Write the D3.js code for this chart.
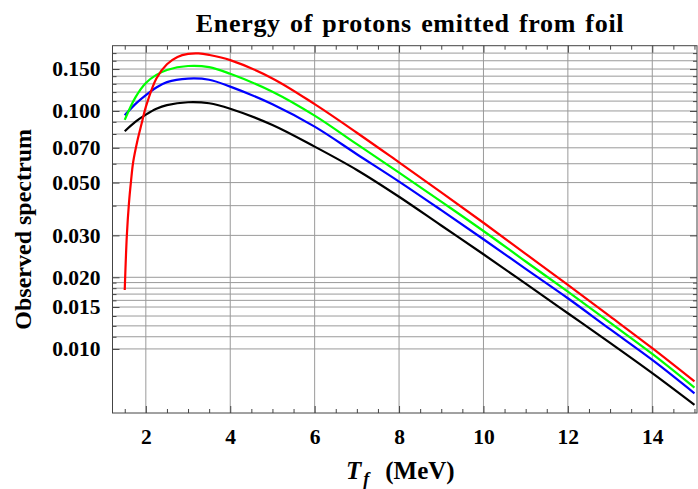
<!DOCTYPE html>
<html>
<head>
<meta charset="utf-8">
<script src="https://cdn.jsdelivr.net/npm/d3@7"></script>
<style>
  body { margin: 0; background: #fff; }
  text { font-family: "Liberation Serif", "Times New Roman", serif; font-weight: bold; fill: #000; }
</style>
</head>
<body>
<svg id="chart" width="698" height="489"></svg>
<script>
// energies (MeV) for the black, blue and green curves
const energy = [1.5, 1.75, 2, 2.25, 2.5, 3, 3.5, 4, 5, 6, 7, 8, 9, 10, 11, 12, 13, 14, 15];
const blackSpectrum = [0.0822, 0.0900, 0.0965, 0.1021, 0.1058, 0.1088, 0.1077, 0.1022, 0.0873, 0.0708, 0.0565, 0.0436, 0.0330, 0.0250, 0.0188, 0.01412, 0.0106, 0.00791, 0.00582];
const blueSpectrum = [0.0959, 0.1068, 0.1165, 0.1255, 0.1322, 0.1367, 0.1352, 0.1265, 0.1067, 0.0859, 0.0658, 0.0505, 0.0383, 0.0289, 0.0217, 0.01633, 0.0121, 0.00899, 0.00651];
const greenSpectrum = [0.0917, 0.1137, 0.1310, 0.1417, 0.1487, 0.1545, 0.1528, 0.1432, 0.1205, 0.0956, 0.0725, 0.0551, 0.0416, 0.0313, 0.0233, 0.0174, 0.0129, 0.00953, 0.00688];

// the red curve rises steeply, so it is read at more energies
const redEnergy = [1.5, 1.55, 1.6, 1.65, 1.7, 1.8, 1.9, 2, 2.25, 2.5, 2.75, 3, 3.25, 3.5, 4, 5, 6, 7, 8, 9, 10, 11, 12, 13, 14, 15];
const redSpectrum = [0.0177, 0.030, 0.041, 0.051, 0.061, 0.075, 0.0885, 0.104, 0.137, 0.157, 0.1685, 0.1736, 0.1745, 0.172, 0.1635, 0.137, 0.1068, 0.0810, 0.0608, 0.0455, 0.0339, 0.0251, 0.01858, 0.0137, 0.01007, 0.0073];

const xTicks = [2, 4, 6, 8, 10, 12, 14];
const xMinorTicks = [1.5, 2.5, 3, 3.5, 4.5, 5, 5.5, 6.5, 7, 7.5, 8.5, 9, 9.5, 10.5, 11, 11.5, 12.5, 13, 13.5, 14.5, 15];
const yTicks = [0.01, 0.015, 0.02, 0.03, 0.05, 0.07, 0.1, 0.15];
const yMinorTicks = [0.01125, 0.0125, 0.01375, 0.016, 0.017, 0.018, 0.019, 0.04, 0.06, 0.08, 0.09, 0.11, 0.12, 0.13, 0.14, 0.1625, 0.175];

const width = 698, height = 489;
const margin = {top: 45.7, right: 1, bottom: 76, left: 112.5};

const svg = d3.select('#chart');

const x = d3.scaleLinear()
  .domain([1.21, 15.06])
  .range([margin.left, width - margin.right]);

const y = d3.scaleLog()
  .domain([0.00538, 0.188])
  .range([height - margin.bottom, margin.top]);

const x0 = margin.left, x1 = width - margin.right;
const y0 = height - margin.bottom, y1 = margin.top;

// grid
const grid = svg.append('g')
  .attr('stroke', '#9a9a9a')
  .attr('stroke-width', 1);
grid.append('g')
  .selectAll('line')
  .data(xTicks)
  .join('line')
  .attr('x1', d => x(d))
  .attr('x2', d => x(d))
  .attr('y1', y1)
  .attr('y2', y0);
grid.append('g')
  .selectAll('line')
  .data(yTicks.concat(yMinorTicks))
  .join('line')
  .attr('y1', d => y(d))
  .attr('y2', d => y(d))
  .attr('x1', x0)
  .attr('x2', x1);

// curves
const line = d3.line()
  .curve(d3.curveCatmullRom.alpha(0.5))
  .x(d => x(d[0]))
  .y(d => y(d[1]));

const series = [
  {color: '#000000', xs: energy, ys: blackSpectrum},
  {color: '#0000ff', xs: energy, ys: blueSpectrum},
  {color: '#00ff00', xs: energy, ys: greenSpectrum},
  {color: '#ff0000', xs: redEnergy, ys: redSpectrum}
];

svg.append('g')
  .selectAll('path')
  .data(series)
  .join('path')
  .attr('fill', 'none')
  .attr('stroke', d => d.color)
  .attr('stroke-width', 2.2)
  .attr('stroke-linejoin', 'round')
  .attr('d', d => line(d.xs.map((v, i) => [v, d.ys[i]])));

// frame with ticks on all four sides
const tickColor = '#444';
const frame = svg.append('g');

const bottomAxis = d3.axisBottom(x).tickValues(xTicks).tickSize(-7).tickFormat(d3.format('d')).tickPadding(16);
const bottomMinor = d3.axisBottom(x).tickValues(xMinorTicks).tickSize(-4).tickFormat('');
const topAxis = d3.axisTop(x).tickValues(xTicks).tickSize(-7).tickFormat('');
const topMinor = d3.axisTop(x).tickValues(xMinorTicks).tickSize(-4).tickFormat('');
const leftAxis = d3.axisLeft(y).tickValues(yTicks).tickSize(-7).tickFormat(d3.format('.3f')).tickPadding(12);
const leftMinor = d3.axisLeft(y).tickValues(yMinorTicks).tickSize(-4).tickFormat('');
const rightAxis = d3.axisRight(y).tickValues(yTicks).tickSize(-7).tickFormat('');
const rightMinor = d3.axisRight(y).tickValues(yMinorTicks).tickSize(-4).tickFormat('');

const styleAxis = g => g
  .call(g => g.select('.domain').remove())
  .call(g => g.selectAll('.tick line').attr('stroke', tickColor))
  .call(g => g.selectAll('.tick text').style('font-size', '21.5px').attr('fill', '#000'));

frame.append('g').attr('transform', `translate(0,${y0})`).call(bottomAxis).call(styleAxis);
frame.append('g').attr('transform', `translate(0,${y0})`).call(bottomMinor).call(styleAxis);
frame.append('g').attr('transform', `translate(0,${y1})`).call(topAxis).call(styleAxis);
frame.append('g').attr('transform', `translate(0,${y1})`).call(topMinor).call(styleAxis);
frame.append('g').attr('transform', `translate(${x0},0)`).call(leftAxis).call(styleAxis);
frame.append('g').attr('transform', `translate(${x0},0)`).call(leftMinor).call(styleAxis);
frame.append('g').attr('transform', `translate(${x1},0)`).call(rightAxis).call(styleAxis);
frame.append('g').attr('transform', `translate(${x1},0)`).call(rightMinor).call(styleAxis);

frame.append('rect')
  .attr('x', x0)
  .attr('y', y1)
  .attr('width', x1 - x0)
  .attr('height', y0 - y1)
  .attr('fill', 'none')
  .attr('stroke', tickColor)
  .attr('stroke-width', 1);

// titles
svg.append('text')
  .attr('x', 410)
  .attr('y', 32)
  .attr('text-anchor', 'middle')
  .style('font-size', '26px')
  .style('letter-spacing', '0.7px')
  .style('word-spacing', '2px')
  .text('Energy of protons emitted from foil');

svg.append('text')
  .attr('transform', `translate(31,${(y0 + y1) / 2}) rotate(-90)`)
  .attr('text-anchor', 'middle')
  .style('font-size', '24px')
  .text('Observed spectrum');

const xLabel = svg.append('text')
  .attr('x', 346)
  .attr('y', 479)
  .style('font-size', '25px');
xLabel.append('tspan').style('font-style', 'italic').text('T');
xLabel.append('tspan').style('font-style', 'italic').style('font-size', '18px').attr('dx', 2).attr('dy', 6).text('f');
xLabel.append('tspan').attr('dx', 16).attr('dy', -6).text('(MeV)');
</script>
</body>
</html>
